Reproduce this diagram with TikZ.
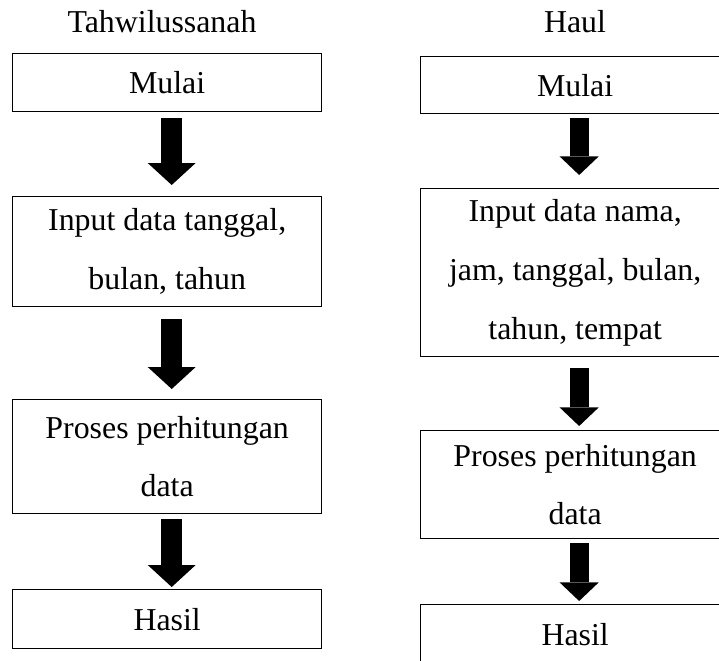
\documentclass[tikz,border=0pt]{standalone}
\usepackage{fontspec}
\setmainfont{Liberation Serif}
\usetikzlibrary{arrows.meta}

\tikzset{every picture/.style={line width=0.75pt}}
\tikzset{
  flowtext/.style={font=\fontsize{23.9}{44}\selectfont},
  flowbox/.style={flowtext, draw, line width=1pt, anchor=north west, minimum width=231.75pt, inner sep=0pt, align=center},
  bigarrowL/.style={line width=15.75pt, -{Triangle[width=36pt,length=16.5pt,line width=0pt]}},
  bigarrowR/.style={line width=14.25pt, -{Triangle[width=29.25pt,length=13.9pt,line width=0pt]}}
}

\begin{document}
\begin{tikzpicture}[x=0.75pt,y=0.75pt,yscale=-1,xscale=1]
\useasboundingbox (0,0) rectangle (719,661);
\clip (0,0) rectangle (719,661);

% Text Node
\draw (162,32) node [anchor=base][flowtext] (titleL) {Tahwilussanah};
% Text Node
\draw (575,32) node [anchor=base][flowtext] (titleR) {Haul};

%Shape: Rectangle [Tahwilussanah]
\draw (12,53) node [flowbox, minimum height=43.5pt] (mulaiL) {Mulai};
\draw (12,196) node [flowbox, minimum height=82.5pt] (inputL) {Input data tanggal,\\bulan, tahun};
\draw (12,399) node [flowbox, minimum height=85.5pt] (prosesL) {Proses perhitungan\\data};
\draw (12,589) node [flowbox, minimum height=44.25pt] (hasilL) {Hasil};

%Shape: Rectangle [Haul]
\draw (420,56) node [flowbox, minimum height=42.75pt] (mulaiR) {Mulai};
\draw (420,188) node [flowbox, minimum height=126pt] (inputR) {Input data nama,\\jam, tanggal, bulan,\\tahun, tempat};
\draw (420,430) node [flowbox, minimum height=81pt] (prosesR) {Proses perhitungan\\data};
\draw (420,604) node [flowbox, minimum height=44.25pt] (hasilR) {Hasil};

%Block Arrows [Tahwilussanah]
\draw [bigarrowL, shorten <=4.5pt, shorten >=8.25pt] ([xshift=3.4pt]mulaiL.south) -- ([xshift=3.4pt]inputL.north);
\draw [bigarrowL, shorten <=9pt, shorten >=7.5pt] ([xshift=3.4pt]inputL.south) -- ([xshift=3.4pt]prosesL.north);
\draw [bigarrowL, shorten <=3.75pt, shorten >=1.5pt] ([xshift=3.4pt]prosesL.south) -- ([xshift=3.4pt]hasilL.north);

%Block Arrows [Haul]
\draw [bigarrowR, shorten <=3pt, shorten >=9.75pt] ([xshift=3pt]mulaiR.south) -- ([xshift=3pt]inputR.north);
\draw [bigarrowR, shorten <=8.25pt, shorten >=3pt] ([xshift=3pt]inputR.south) -- ([xshift=3pt]prosesR.north);
\draw [bigarrowR, shorten <=3pt, shorten >=2.25pt] ([xshift=3pt]prosesR.south) -- ([xshift=3pt]hasilR.north);

\end{tikzpicture}
\end{document}
